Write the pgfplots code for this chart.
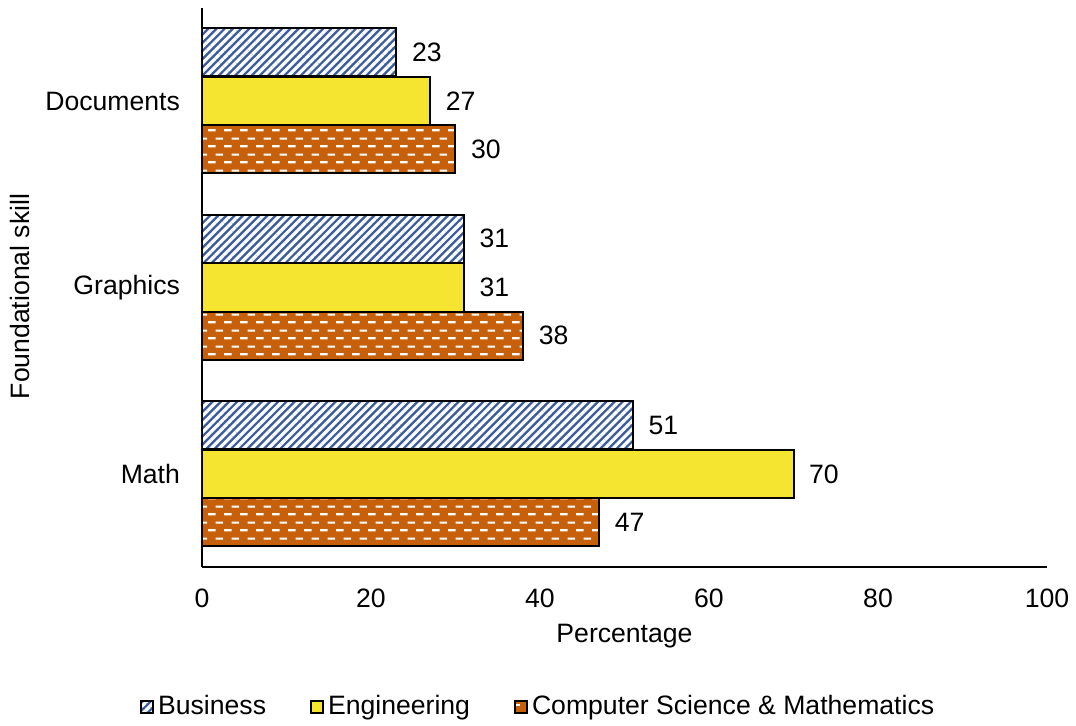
\documentclass[border=0pt]{standalone}
\usepackage{fontspec}
\setmainfont{Liberation Sans}
\usepackage{pgfplots}
\pgfplotsset{compat=1.18}
\usetikzlibrary{patterns,patterns.meta}

\definecolor{busblue}{RGB}{60,93,156}
\definecolor{engyellow}{RGB}{246,229,48}
\definecolor{csorange}{RGB}{198,96,10}

% white horizontal dashes, alternate rows offset by half a dash period
\tikzdeclarepattern{
  name=hdashes,
  type=uncolored,
  bottom left={(0pt,0pt)},
  top right={(8pt,8pt)},
  tile size={(8pt,8pt)},
  code={
    \draw[line width=1.1pt] (0pt,2pt) -- (4pt,2pt);
    \draw[line width=1.1pt] (4pt,6pt) -- (8pt,6pt);
  }
}

\begin{document}
\begin{tikzpicture}[font=\fontsize{13.3}{16}\selectfont]
\path[use as bounding box] (-101pt,-79pt) rectangle (437pt,283.5pt);
\begin{axis}[
  scale only axis,
  width=422.5pt, height=279.5pt,
  at={(0,0)}, anchor=south west,
  xbar,
  bar width=0.258,
  xmin=0, xmax=100,
  ymin=-0.5, ymax=2.5,
  xtick={0,20,40,60,80,100},
  ytick={0,1,2},
  yticklabels={Math,Graphics,Documents},
  major tick length=0pt,
  axis x line*=bottom,
  axis y line*=left,
  axis line style={line width=1pt, -},
  /pgf/number format/assume math mode=true,
  xticklabel style={yshift=-7.5pt},
  yticklabel style={xshift=-7.5pt},
  xlabel={Percentage},
  xlabel style={at={(axis description cs:0.5,-0.123)}, anchor=center},
  ylabel={Foundational skill},
  ylabel style={at={(axis description cs:-0.2154,0.484)}, anchor=center, rotate=0},
  nodes near coords,
  nodes near coords align={horizontal},
  every node near coord/.append style={anchor=west, xshift=4pt, text=black},
  legend columns=3,
  legend style={draw=none, at={(axis description cs:0.399,-0.25)}, anchor=center,
    /tikz/every even column/.append style={column sep=20pt},
    font=\fontsize{13.3}{16}\selectfont},
  legend image code/.code={
    \path[#1] (0pt,-3pt) rectangle (6pt,3pt);
  },
]
\addplot[bar shift=0.262, draw=black, line width=1pt,
  preaction={fill=busblue},
  preaction={pattern={Lines[angle=45,distance=2.9pt,line width=1.6pt]}, pattern color=white}]
  coordinates {(51,0) (31,1) (23,2)};
\addlegendentry{Business}
\addplot[bar shift=0, draw=black, line width=1pt, fill=engyellow]
  coordinates {(70,0) (31,1) (27,2)};
\addlegendentry{Engineering}
\addplot[bar shift=-0.258, draw=black, line width=1pt,
  preaction={fill=csorange},
  preaction={pattern=hdashes, pattern color=white}]
  coordinates {(47,0) (38,1) (30,2)};
\addlegendentry{Computer Science \& Mathematics}
\end{axis}
\end{tikzpicture}
\end{document}
